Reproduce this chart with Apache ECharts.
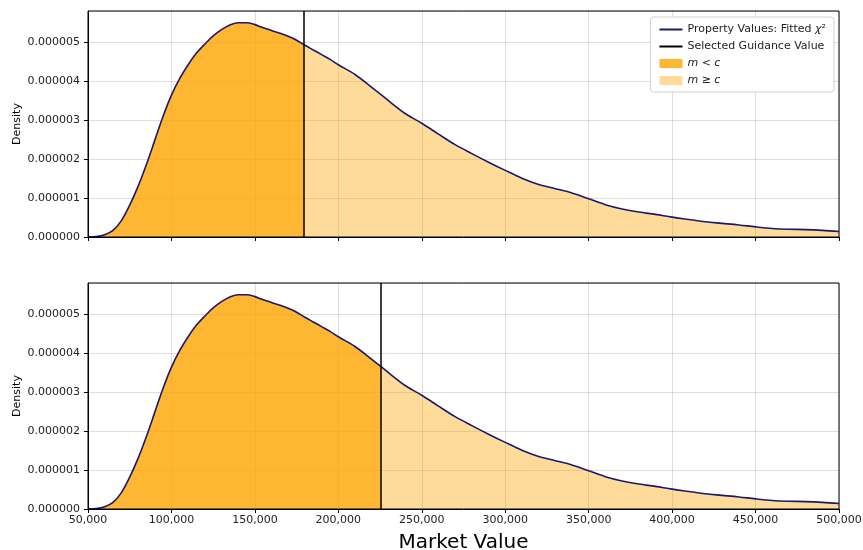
<!DOCTYPE html>
<html>
<head>
<meta charset="utf-8">
<script src="https://cdn.jsdelivr.net/npm/echarts@6/dist/echarts.min.js"></script>
<style>
  html, body { margin: 0; padding: 0; background: #fff; }
  #chart { width: 863px; height: 550px; }
</style>
</head>
<body>
<div id="chart"></div>
<script>
// market values and the fitted chi-square density (in units of 1e-6)
const marketValues = [50000, 55000, 60000, 65000, 70000, 75000, 80000, 85000, 90000, 95000,
  100000, 105000, 110000, 115000, 120000, 125000, 130000, 135000, 140000, 145000,
  150000, 155000, 160000, 165000, 170000, 175000, 180000, 185000, 190000, 195000,
  200000, 210000, 220000, 230000, 240000, 250000, 260000, 270000, 280000, 290000,
  300000, 310000, 320000, 330000, 340000, 350000, 360000, 370000, 380000, 390000,
  400000, 410000, 420000, 430000, 440000, 450000, 460000, 470000, 480000, 490000, 500000]
const densityE6 = [0.00, 0.01, 0.06, 0.17, 0.42, 0.82, 1.30, 1.86, 2.48, 3.10,
  3.64, 4.07, 4.42, 4.72, 4.95, 5.16, 5.32, 5.44, 5.50, 5.50,
  5.45, 5.37, 5.30, 5.23, 5.15, 5.05, 4.92, 4.80, 4.68, 4.56,
  4.42, 4.17, 3.84, 3.50, 3.17, 2.92, 2.64, 2.37, 2.14, 1.92,
  1.71, 1.51, 1.35, 1.24, 1.13, 0.98, 0.83, 0.72, 0.64, 0.58,
  0.51, 0.45, 0.39, 0.35, 0.31, 0.26, 0.22, 0.20, 0.19, 0.17, 0.14]
const guidanceValues = [179500, 225500]
const xTicks = [50000, 500000, 50000]   // min, max, step
const yTicks = [0, 5.8, 1]              // min, max, step (1e-6)

const curveName = 'Property Values: Fitted χ²'
const cutName = 'Selected Guidance Value'
const lowName = 'm < c'
const highName = 'm ≥ c'

const lowColor = 'rgba(255,165,0,0.8)'
const highColor = 'rgba(255,165,0,0.4)'
const navy = '#191970'
const font = 'DejaVu Sans'

const myChart = echarts.init(document.getElementById('chart'), null, {renderer: 'canvas'})
const points = marketValues.map((v, i) => [v, densityE6[i]])

const grids = [
  {left: 88, right: 24, top: 11, height: 226},
  {left: 88, right: 24, top: 283, height: 226}
]

const makeX = (i) => ({
  type: 'value', gridIndex: i, z: 3,
  min: xTicks[0], max: xTicks[1], interval: xTicks[2],
  axisLine: {lineStyle: {color: '#000', width: 1}},
  axisTick: {show: true, length: 4, lineStyle: {color: '#000'}},
  axisLabel: {
    show: i === 1, color: '#222', fontFamily: font, fontSize: 11, margin: 6,
    formatter: v => v.toLocaleString('en-US')
  },
  splitLine: {show: true, lineStyle: {color: 'rgba(0,0,0,0.13)', width: 1}},
  name: i === 1 ? 'Market Value' : '',
  nameLocation: 'middle', nameGap: 24, nameMoveOverlap: false,
  nameTextStyle: {fontFamily: font, fontSize: 20, color: '#000'}
})

const makeY = (i) => ({
  type: 'value', gridIndex: i, z: 3,
  min: yTicks[0], max: yTicks[1], interval: yTicks[2],
  axisLine: {show: true, lineStyle: {color: '#000', width: 1}},
  axisTick: {show: true, length: 4, lineStyle: {color: '#000'}},
  axisLabel: {
    color: '#222', fontFamily: font, fontSize: 11, margin: 8, showMaxLabel: false,
    formatter: v => (v * 1e-6).toFixed(6)
  },
  splitLine: {show: true, lineStyle: {color: 'rgba(0,0,0,0.13)', width: 1}},
  name: 'Density', nameLocation: 'middle', nameGap: 65, nameMoveOverlap: false,
  nameTextStyle: {fontFamily: font, fontSize: 11, color: '#000'}
})

const makeCurve = (i) => ({
  name: 'curve' + i,
  type: 'line',
  xAxisIndex: i, yAxisIndex: i,
  data: points,
  smooth: 0.35,
  showSymbol: false,
  symbol: 'none',
  lineStyle: {color: navy, width: 1.6},
  areaStyle: {opacity: 1},
  markLine: {
    silent: true, symbol: 'none',
    label: {show: false},
    lineStyle: {color: '#000', width: 1.5, type: 'solid'},
    data: [{xAxis: guidanceValues[i]}]
  }
})

let option = {
  animation: false,
  backgroundColor: '#fff',
  grid: grids.map(g => Object.assign({show: true, borderColor: '#000', borderWidth: 1, z: 4, outerBoundsMode: 'none', containLabel: false}, g)),
  xAxis: [makeX(0), makeX(1)],
  yAxis: [makeY(0), makeY(1)],
  visualMap: guidanceValues.map((c, i) => ({
    type: 'piecewise', show: false, dimension: 0, seriesIndex: i,
    pieces: [
      {gte: xTicks[0], lt: c, color: lowColor},
      {gte: c, lte: xTicks[1], color: highColor}
    ]
  })),
  legend: {
    orient: 'vertical', right: 29, top: 17,
    padding: [7, 8, 6, 8], itemGap: 6,
    itemWidth: 23, itemHeight: 9,
    backgroundColor: '#fff', borderColor: '#d0d0d0', borderWidth: 1, borderRadius: 3,
    textStyle: {
      fontFamily: font, fontSize: 11, color: '#222',
      rich: {i: {fontFamily: font, fontSize: 11, fontStyle: 'italic', color: '#222'}}
    },
    formatter: name => {
      if (name === lowName) return '{i|m} < {i|c}'
      if (name === highName) return '{i|m} ≥ {i|c}'
      if (name === curveName) return 'Property Values: Fitted {i|χ}²'
      return name
    },
    data: [
      {name: curveName, itemStyle: {opacity: 0}},
      {name: cutName, itemStyle: {opacity: 0}},
      {name: lowName, icon: 'rect'},
      {name: highName, icon: 'rect'}
    ]
  },
  series: [
    makeCurve(0),
    makeCurve(1),
    // legend-only entries
    {name: curveName, type: 'line', data: [], symbol: 'none', lineStyle: {color: navy, width: 1.6}, itemStyle: {color: navy}},
    {name: cutName, type: 'line', data: [], symbol: 'none', lineStyle: {color: '#000', width: 1.5}, itemStyle: {color: '#000'}},
    {name: lowName, type: 'bar', data: [], itemStyle: {color: lowColor}},
    {name: highName, type: 'bar', data: [], itemStyle: {color: highColor}}
  ]
}

myChart.setOption(option)
</script>
</body>
</html>
